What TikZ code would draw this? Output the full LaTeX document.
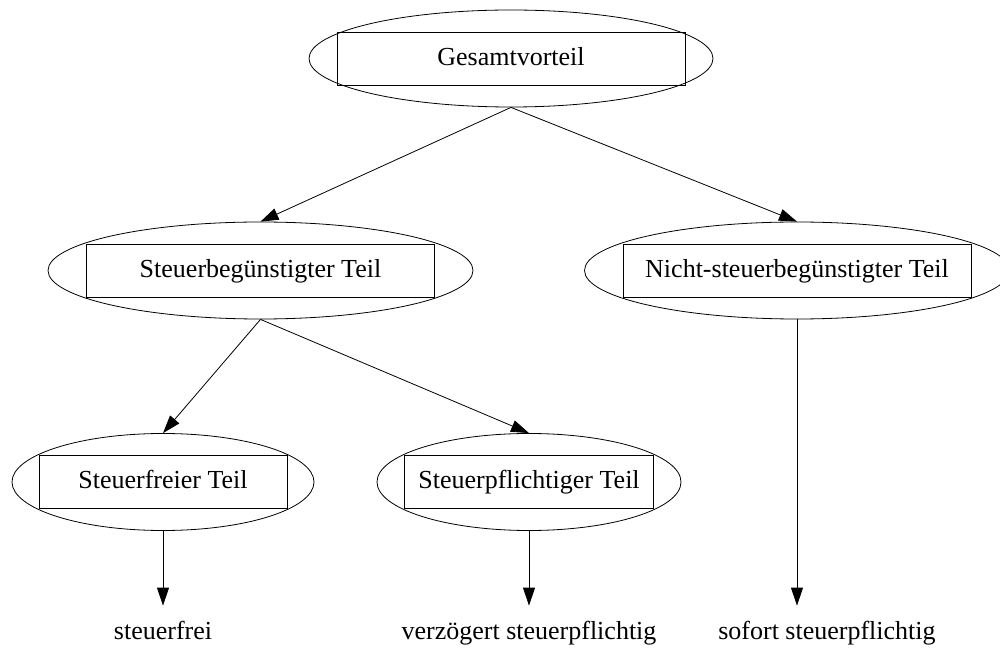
\documentclass[tikz,border=0pt]{standalone}
\usepackage{fontspec}
\setmainfont{Liberation Serif}
\usetikzlibrary{shapes.geometric, arrows.meta}

\begin{document}
\begin{tikzpicture}[x=0.75pt, y=-0.75pt, line width=0.6pt, >={Triangle[length=13.5pt, width=9pt]}]
	\tikzstyle{oval} = [ellipse, draw, inner sep=0pt, minimum height=72.75pt]
	\tikzstyle{box} = [rectangle, draw, inner sep=0pt, minimum height=39.75pt, text height=14pt, text depth=4pt, font=\fontsize{19.5}{23}\selectfont]
	\tikzstyle{leaf} = [inner sep=0pt, minimum height=40.5pt, text height=14pt, text depth=4pt, font=\fontsize{19.5}{23}\selectfont]

	\useasboundingbox (0,0) rectangle (1000,648);

	\foreach \name/\x/\y/\w/\bw/\text in {ges/511/58.5/303/261/Gesamtvorteil, beg/260.5/270.5/318.75/261/Steuerbegünstigter Teil, nbeg/797/270.5/318.75/261/Nicht-steuerbegünstigter Teil, frei/163/482/226.5/186/Steuerfreier Teil, pfl/529/482/228/187/Steuerpflichtiger Teil} {
		\node[oval, minimum width=\w pt] (\name) at (\x, \y) {};
		\node[box, minimum width=\bw pt] (B-\name) at (\x, \y) {\text};
	}

	\foreach \name/\x/\text in {frei/163/steuerfrei, pfl/529/verzögert steuerpflichtig, nbeg/827/sofort steuerpflichtig} {
		\node[leaf] (L-\name) at (\x, 633) {\text};
	}

	\draw[->] (ges.south) -- (beg.north);
	\draw[->] (ges.south) -- (nbeg.north);
	\draw[->] (beg.south) -- (frei.north);
	\draw[->] (beg.south) -- (pfl.north);
	\draw[->] (frei.south) -- (L-frei.north);
	\draw[->] (pfl.south) -- (L-pfl.north);
	\draw[->] (nbeg.south) -- (nbeg.south |- L-nbeg.north);
\end{tikzpicture}
\end{document}
